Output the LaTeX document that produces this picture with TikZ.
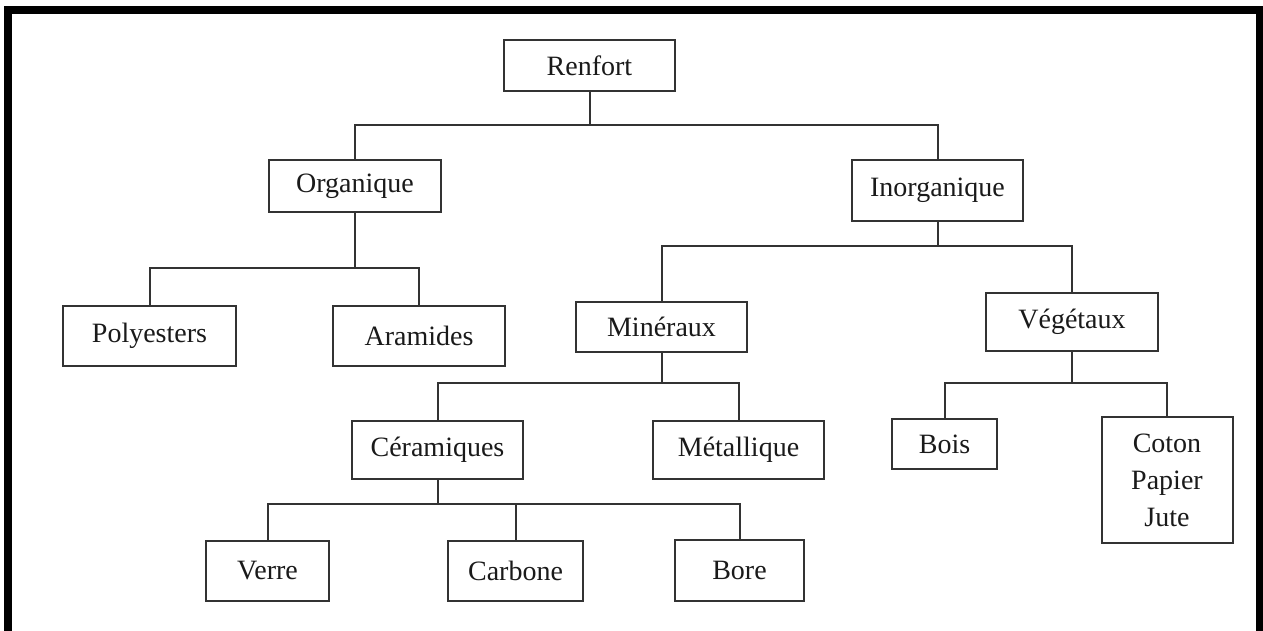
\documentclass[tikz,border=0pt]{standalone}
\usepackage{fontspec}
\setmainfont{Liberation Serif}
\usepackage{tikz}
\usetikzlibrary{positioning, calc}
\definecolor{boxline}{HTML}{333333}
\definecolor{textdark}{HTML}{1A1A1A}

\begin{document}
\begin{tikzpicture}[
    x=0.5pt, y=-0.5pt,
    every node/.style={font=\fontsize{14}{18.5}\selectfont, color=textdark},
    catbox/.style={rectangle, draw=boxline, line width=1pt, fill=white, inner sep=0pt, align=center},
    link/.style={draw=boxline, line width=1pt},
]
\clip (0,0) rectangle (1263,631);
\fill[white] (0,0) rectangle (1263,631);
% outer frame, open at the bottom
\draw[line width=4pt, black] (8,660) -- (8,10) -- (1260,10) -- (1260,660);
% bus levels
\coordinate (bTop) at (0,125);
\coordinate (bOrg) at (0,268);
\coordinate (bInorg) at (0,246);
\coordinate (bMin) at (0,383);
\coordinate (bCer) at (0,504);
% level 0 and 1
\node[catbox, minimum width=85.5pt, minimum height=25.5pt] (renfort) at (589.5,65.5) {Renfort};
\node[catbox, minimum width=86pt, minimum height=26pt] (organique) at (355,186) {Organique};
\node[catbox, minimum width=85.5pt, minimum height=30.5pt] (inorganique) at (937.5,190.5) {Inorganique};
% level 2
\node[catbox, minimum width=86.5pt, minimum height=30pt] (polyesters) at (149.5,335.5) {Polyesters};
\node[catbox, minimum width=86pt, minimum height=30pt] (aramides) at (419,335.5) {Aramides};
\node[catbox, minimum width=85.5pt, minimum height=25pt] (mineraux) at (661.5,327) {Minéraux};
\node[catbox, minimum width=86pt, minimum height=29pt] (vegetaux) at (1072,322) {Végétaux};
% level 3
\node[catbox, minimum width=85.5pt, minimum height=29pt] (ceramiques) at (437.5,450) {Céramiques};
\node[catbox, minimum width=85.5pt, minimum height=29pt] (metallique) at (738.5,450) {Métallique};
\node[catbox, minimum width=52.5pt, minimum height=25pt] (bois) at (944.5,444) {Bois};
\node[catbox, minimum width=65.5pt, minimum height=63pt] (coton) at (1167,480) {Coton\\Papier\\Jute};
% level 4
\node[catbox, minimum width=61.5pt, minimum height=30pt] (verre) at (267.5,571) {Verre};
\node[catbox, minimum width=67.5pt, minimum height=30pt] (carbone) at (515.5,571) {Carbone};
\node[catbox, minimum width=64.5pt, minimum height=30.5pt] (bore) at (739.5,570.5) {Bore};
% connectors
\draw[link] (renfort.south) -- (renfort.south |- bTop);
\draw[link] (organique.north) |- (renfort.south |- bTop) -| (inorganique.north);
\draw[link] (organique.south) -- (organique.south |- bOrg);
\draw[link] (polyesters.north) |- (organique.south |- bOrg) -| (aramides.north);
\draw[link] (inorganique.south) -- (inorganique.south |- bInorg);
\draw[link] (mineraux.north) |- (inorganique.south |- bInorg) -| (vegetaux.north);
\draw[link] (mineraux.south) -- (mineraux.south |- bMin);
\draw[link] (ceramiques.north) |- (mineraux.south |- bMin) -| (metallique.north);
\draw[link] (vegetaux.south) -- (vegetaux.south |- bMin);
\draw[link] (bois.north) |- (vegetaux.south |- bMin) -| (coton.north);
\draw[link] (ceramiques.south) -- (ceramiques.south |- bCer);
\draw[link] (verre.north) |- (ceramiques.south |- bCer) -| (bore.north);
\draw[link] (carbone.north) -- (carbone.north |- bCer);
\end{tikzpicture}
\end{document}
